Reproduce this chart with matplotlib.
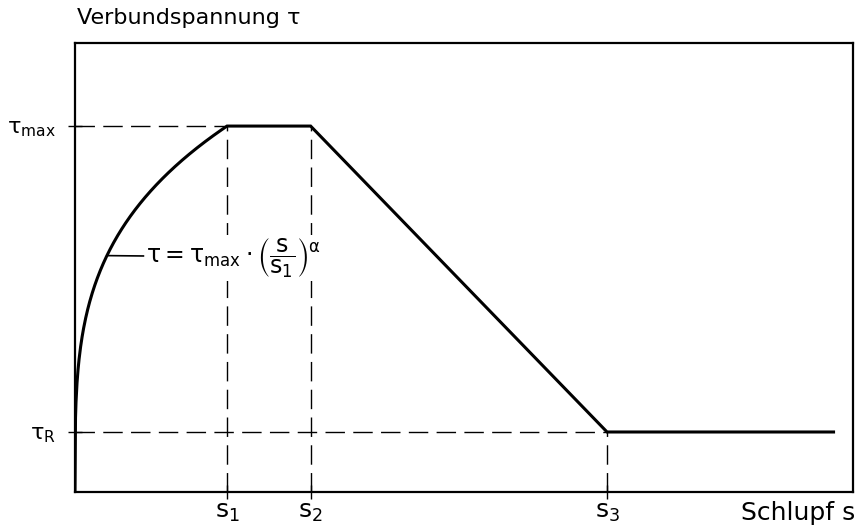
import matplotlib
matplotlib.use('Agg')
import matplotlib.pyplot as plt
import numpy as np

# bond stress - slip model (values relative to s1 and tau_max)
slip_points = [1.0, 1.55, 3.5]          # s1, s2, s3
slip_end = 4.99
tau_max = 1.0
tau_r = 0.164
alpha = 0.28
slip_labels = [r'$s_1$', r'$s_2$', r'$s_3$']
tau_labels = [r'$\tau_{max}$', r'$\tau_R$']

s1, s2, s3 = slip_points

plt.rcParams['font.family'] = ['DejaVu Sans']
plt.rcParams['mathtext.fontset'] = 'dejavusans'
plt.rcParams['mathtext.default'] = 'regular'

fig = plt.figure(figsize=(8.59, 5.28), dpi=100)
ax = fig.add_axes([75 / 859, 36 / 528, 778 / 859, 449 / 528])

# ascending branch from the stated power law, then plateau, softening, residual
s_rise = np.linspace(0, s1, 300)
tau_rise = tau_max * (s_rise / s1) ** alpha
s_all = np.concatenate([s_rise, [s2, s3, slip_end]])
tau_all = np.concatenate([tau_rise, [tau_max, tau_r, tau_r]])
ax.plot(s_all, tau_all, color='black', lw=2.2, solid_joinstyle='miter', zorder=3)

dash = dict(color='black', lw=1.0, dashes=(14, 6), zorder=1)
ax.plot([0, s1], [tau_max, tau_max], **dash)
ax.plot([0, s3], [tau_r, tau_r], **dash)
ax.plot([s1, s1], [0, tau_max], **dash)
ax.plot([s2, s2], [0, tau_max], **dash)
ax.plot([s3, s3], [0, tau_r], **dash)

ax.set_xlim(0, 5.118)
ax.set_ylim(0, 1.227)
for sp in ax.spines.values():
    sp.set_linewidth(1.6)

ax.set_xticks(slip_points)
ax.set_xticklabels(slip_labels, fontsize=18)
ax.set_yticks([tau_max, tau_r])
ax.set_yticklabels(tau_labels, fontsize=16)
ax.tick_params(direction='inout', length=10, width=1.0)
ax.tick_params(axis='x', pad=1)
ax.tick_params(axis='y', pad=9)

# axis captions
fig.text(77 / 859, 1 - 18 / 528, 'Verbundspannung τ', fontsize=16,
         ha='left', va='center')
fig.text(855 / 859, 1 - 513 / 528, 'Schlupf s', fontsize=18,
         ha='right', va='center')

# formula label with leader line to the curve
s_lead = 0.21
ax.plot([s_lead, 0.45], [tau_max * (s_lead / s1) ** alpha, 0.645],
        color='black', lw=1.2, zorder=3)
ax.text(0.47, 0.64, r'$\tau = \tau_{max} \cdot \left(\dfrac{s}{s_1}\right)^{\alpha}$',
        fontsize=17, ha='left', va='center', zorder=2,
        bbox=dict(facecolor='white', edgecolor='none', pad=1))

fig.savefig('out.png', dpi=100)
plt.close(fig)
